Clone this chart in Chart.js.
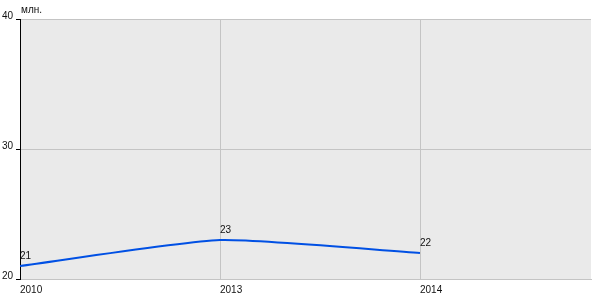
<!DOCTYPE html>
<html>
<head>
<meta charset="utf-8">
<script src="https://cdn.jsdelivr.net/npm/chart.js@4"></script>
<style>
  html, body { margin: 0; padding: 0; background: #fff; }
  #wrap { width: 600px; height: 300px; }
</style>
</head>
<body>
<div id="wrap"><canvas id="chart"></canvas></div>
<script>
const years = ["2010", "2013", "2014"];
const values = [21, 23, 22];
const yTicks = [20, 30, 40];
const unitLabel = "млн.";

const fontFamily = "'Liberation Sans', Arial, sans-serif";

// grey plot background, unit label and point value labels
const decorPlugin = {
  id: "decor",
  beforeDraw(chart) {
    const a = chart.chartArea;
    const ctx = chart.ctx;
    ctx.save();
    ctx.fillStyle = "#eaeaea";
    ctx.fillRect(a.left, a.top, a.right - a.left, a.bottom - a.top);
    ctx.restore();
  },
  afterDatasetsDraw(chart) {
    const ctx = chart.ctx;
    const a = chart.chartArea;
    ctx.save();
    ctx.font = "10px " + fontFamily;
    ctx.fillStyle = "#111";
    ctx.textAlign = "left";
    ctx.textBaseline = "middle";
    ctx.fillText(unitLabel, a.left + 1, a.top - 9);
    const meta = chart.getDatasetMeta(0);
    meta.data.forEach(function (pt, i) {
      ctx.fillText(String(values[i]), pt.x, pt.y - 10);
    });
    ctx.restore();
  }
};

new Chart(document.getElementById("chart"), {
  type: "line",
  data: {
    datasets: [{
      data: values.map((v, i) => ({ x: i, y: v })),
      borderColor: "#0050e4",
      borderWidth: 2,
      pointRadius: 0,
      tension: 0.18,
      fill: false
    }]
  },
  options: {
    responsive: true,
    maintainAspectRatio: false,
    animation: false,
    layout: { padding: { top: 19, right: 9, left: 0, bottom: 0 } },
    plugins: { legend: { display: false }, tooltip: { enabled: false } },
    scales: {
      x: {
        type: "linear",
        min: 0,
        max: 2.855,
        afterBuildTicks(scale) {
          scale.ticks = years.map((_, i) => ({ value: i }));
        },
        afterFit(scale) { scale.height = 21; },
        ticks: {
          align: "start",
          padding: 5,
          color: "#111",
          font: { size: 10, family: fontFamily },
          callback: (v) => years[v]
        },
        grid: { color: "#c4c4c4", drawTicks: false },
        border: { color: "#c4c4c4" }
      },
      y: {
        min: 20,
        max: 40,
        afterBuildTicks(scale) {
          scale.ticks = yTicks.map((v) => ({ value: v }));
        },
        afterFit(scale) { scale.width = 20; },
        ticks: {
          padding: 3,
          labelOffset: -3,
          color: "#111",
          font: { size: 10, family: fontFamily }
        },
        grid: { color: "#c4c4c4", tickColor: "#000", tickLength: 4 },
        border: { color: "#000", width: 1 }
      }
    }
  },
  plugins: [decorPlugin]
});
</script>
</body>
</html>
